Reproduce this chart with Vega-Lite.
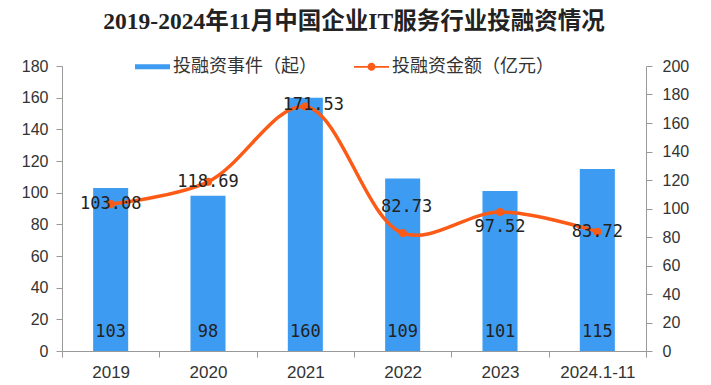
{
  "$schema": "https://vega.github.io/schema/vega-lite/v6.json",
  "width": 584,
  "height": 285,
  "autosize": {"type": "none"},
  "padding": {"left": 62, "top": 66, "right": 65, "bottom": 34},
  "background": "white",
  "title": {
    "text": "2019-2024年11月中国企业IT服务行业投融资情况",
    "font": "Liberation Serif, Noto Sans CJK SC",
    "fontSize": 23.5,
    "fontWeight": "bold",
    "color": "#222",
    "anchor": "middle",
    "baseline": "middle",
    "offset": 4
  },
  "config": {
    "view": {"stroke": null},
    "axis": {"labelFont": "Liberation Sans", "labelFontSize": 16, "labelColor": "#333", "domainColor": "#999", "tickColor": "#999", "grid": false, "tickSize": 6, "labelOverlap": false, "labelBound": false, "labelFlush": false}
  },
  "data": {
    "values": [
      {"year": "2019", "events": 103, "amount": 103.08},
      {"year": "2020", "events": 98, "amount": 118.69},
      {"year": "2021", "events": 160, "amount": 171.53},
      {"year": "2022", "events": 109, "amount": 82.73},
      {"year": "2023", "events": 101, "amount": 97.52},
      {"year": "2024.1-11", "events": 115, "amount": 83.72}
    ]
  },
  "encoding": {
    "x": {
      "field": "year", "type": "nominal", "sort": null, "title": null,
      "scale": {"paddingInner": 0, "paddingOuter": 0},
      "axis": {"labelAngle": 0, "tickBand": "extent", "labelPadding": 7, "labelFontSize": 17}
    }
  },
  "layer": [
    {
      "layer": [
        {
          "mark": {"type": "bar", "width": {"band": 0.36}},
          "encoding": {
            "y": {"field": "events", "type": "quantitative", "title": null,
              "scale": {"domain": [0, 180]},
              "axis": {"values": [0,20,40,60,80,100,120,140,160,180], "orient": "left", "labelPadding": 8, "labelOverlap": false, "tickCount": 10}},
            "color": {"datum": "投融资事件（起）", "type": "nominal",
              "scale": {"domain": ["投融资事件（起）", "投融资金额（亿元）"], "range": ["#3d9cf2", "#fc5b17"]},
              "legend": {
                "title": null, "orient": "none", "direction": "horizontal", "legendX": 73, "legendY": -17,
                "labelFont": "Noto Sans CJK SC", "labelFontSize": 18, "labelColor": "#333", "labelLimit": 400,
                "symbolSize": 1225, "columnPadding": 37, "labelOffset": 3,
                "encode": {"symbols": {"update": {
                  "shape": {"signal": "datum.value === '投融资事件（起）' ? 'M-1,-0.143H1V0.143H-1Z' : 'M-1,-0.05H1V0.05H-1Z M0.23,0A0.23,0.23 0 1,1 -0.23,0A0.23,0.23 0 1,1 0.23,0Z'"},
                  "fill": {"scale": "color", "field": "value"},
                  "strokeWidth": {"value": 0},
                  "opacity": {"value": 1}
                }}}
              }}
          }
        },
        {
          "mark": {"type": "text", "font": "DejaVu Sans Mono", "fontSize": 17, "color": "#222", "baseline": "middle", "dy": -19},
          "encoding": {
            "y": {"datum": 0, "type": "quantitative"},
            "text": {"field": "events", "type": "quantitative"}
          }
        }
      ]
    },
    {
      "layer": [
        {
          "mark": {"type": "line", "interpolate": "catmull-rom", "strokeWidth": 3.5},
          "encoding": {
            "y": {"field": "amount", "type": "quantitative", "title": null,
              "scale": {"domain": [0, 200]},
              "axis": {"values": [0,20,40,60,80,100,120,140,160,180,200], "orient": "right", "labelPadding": 10, "labelOverlap": false, "tickCount": 11}},
            "color": {"datum": "投融资金额（亿元）", "type": "nominal"}
          }
        },
        {
          "mark": {"type": "point", "filled": true, "size": 65, "opacity": 1},
          "encoding": {
            "y": {"field": "amount", "type": "quantitative"},
            "color": {"datum": "投融资金额（亿元）", "type": "nominal"}
          }
        },
        {
          "transform": [{"filter": "datum.year !== '2022' && datum.year !== '2023' && datum.year !== '2021'"}],
          "mark": {"type": "text", "font": "DejaVu Sans Mono", "fontSize": 17, "color": "#222", "baseline": "middle", "dy": 0},
          "encoding": {
            "y": {"field": "amount", "type": "quantitative"},
            "text": {"field": "amount", "type": "quantitative", "format": ".2f"}
          }
        },
        {
          "transform": [{"filter": "datum.year === '2021'"}],
          "mark": {"type": "text", "font": "DejaVu Sans Mono", "fontSize": 17, "color": "#222", "baseline": "middle", "dy": -2, "dx": 8},
          "encoding": {
            "y": {"field": "amount", "type": "quantitative"},
            "text": {"field": "amount", "type": "quantitative", "format": ".2f"}
          }
        },
        {
          "transform": [{"filter": "datum.year === '2022'"}],
          "mark": {"type": "text", "font": "DejaVu Sans Mono", "fontSize": 17, "color": "#222", "baseline": "middle", "dy": -26, "dx": 4},
          "encoding": {
            "y": {"field": "amount", "type": "quantitative"},
            "text": {"field": "amount", "type": "quantitative", "format": ".2f"}
          }
        },
        {
          "transform": [{"filter": "datum.year === '2023'"}],
          "mark": {"type": "text", "font": "DejaVu Sans Mono", "fontSize": 17, "color": "#222", "baseline": "middle", "dy": 15},
          "encoding": {
            "y": {"field": "amount", "type": "quantitative"},
            "text": {"field": "amount", "type": "quantitative", "format": ".2f"}
          }
        }
      ]
    }
  ],
  "resolve": {"scale": {"y": "independent"}}
}
